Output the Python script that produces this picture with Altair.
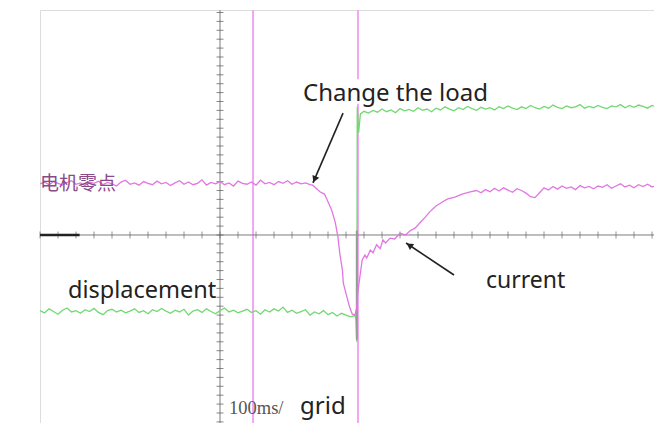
import altair as alt
import pandas as pd

# ---------------- data (time in ms, amplitude in divisions) ----------------
PINK_T = list(range(-200, 101, 5)) + [
    103, 111, 116, 119, 124, 128, 131, 133, 136, 137,
    141, 144, 147, 150, 152, 153, 156, 158, 161, 163,
    167, 170, 174, 178, 181, 184, 189, 194, 200, 206,
    211, 217, 222, 228, 233, 240, 247, 253, 261, 269,
    278] + list(range(285, 486, 5))
PINK_V = [
    1.15, 1.19, 1.13, 1.20, 1.16, 1.12, 1.18, 1.22, 1.14, 1.17,
    1.11, 1.19, 1.16, 1.21, 1.13, 1.18, 1.15, 1.10, 1.19, 1.23,
    1.14, 1.17, 1.12, 1.20, 1.16, 1.13, 1.21, 1.15, 1.18, 1.11,
    1.17, 1.22, 1.14, 1.19, 1.13, 1.16, 1.24, 1.12, 1.18, 1.15,
    1.20, 1.13, 1.17, 1.10, 1.21, 1.16, 1.14, 1.19, 1.12, 1.23,
    1.15, 1.18, 1.13, 1.20, 1.16, 1.22, 1.14, 1.19, 1.15, 1.17,
    1.13,
    1.12, 0.97, 0.92, 0.79, 0.56, 0.29, -0.04, -0.40, -0.79, -1.08,
    -1.39, -1.62, -1.78, -1.80, -1.62, -1.30, -0.85, -0.56, -0.45, -0.52,
    -0.34, -0.40, -0.22, -0.31, -0.11, -0.18, -0.07, -0.09, 0.04, 0.00,
    0.09, 0.16, 0.27, 0.40, 0.52, 0.65, 0.74, 0.81, 0.85, 0.92,
    0.97,
    1.00, 0.95, 1.02, 0.97, 1.05, 0.99, 1.06, 1.01, 0.96, 1.04,
    1.00, 0.94, 0.86, 0.84, 0.95, 1.06, 1.01, 1.09, 1.03, 1.10,
    1.05, 1.08, 1.02, 1.11, 1.06, 1.09, 1.04, 1.10, 1.07, 1.13,
    1.05, 1.10, 1.15, 1.08, 1.12, 1.06, 1.13, 1.09, 1.14, 1.08,
    1.11]

GREEN_T = list(range(-200, 151, 5)) + [151, 152, 152.5, 154, 156] + list(range(160, 486, 5))
GREEN_V = [
    -1.70, -1.75, -1.66, -1.72, -1.78, -1.69, -1.64, -1.73, -1.70, -1.76,
    -1.68, -1.72, -1.65, -1.74, -1.79, -1.70, -1.67, -1.73, -1.69, -1.75,
    -1.71, -1.66, -1.74, -1.70, -1.77, -1.68, -1.72, -1.65, -1.71, -1.76,
    -1.69, -1.73, -1.67, -1.80, -1.71, -1.68, -1.74, -1.66, -1.72, -1.77,
    -1.70, -1.64, -1.73, -1.69, -1.75, -1.71, -1.67, -1.74, -1.70, -1.78,
    -1.68, -1.73, -1.66, -1.71, -1.62, -1.74, -1.69, -1.76, -1.72, -1.68,
    -1.80, -1.73, -1.77, -1.70, -1.79, -1.74, -1.82, -1.76, -1.80, -1.84,
    -1.81,
    -1.90, -2.40, 2.88, 2.30, 2.72,
    2.78, 2.74, 2.80, 2.76, 2.83, 2.77, 2.81, 2.75, 2.84, 2.79,
    2.82, 2.78, 2.86, 2.80, 2.83, 2.77, 2.85, 2.81, 2.88, 2.83,
    2.79, 2.86, 2.82, 2.89, 2.84, 2.80, 2.87, 2.83, 2.86, 2.81,
    2.88, 2.84, 2.90, 2.85, 2.82, 2.88, 2.84, 2.91, 2.86, 2.83,
    2.89, 2.85, 2.92, 2.87, 2.84, 2.90, 2.86, 2.88, 2.93, 2.85,
    2.89, 2.86, 2.91, 2.87, 2.84, 2.90, 2.88, 2.93, 2.86, 2.91,
    2.87, 2.92, 2.89, 2.85, 2.91, 2.88]

GRAY_T = [152, 152]
GRAY_V = [0.1, -2.35]

CURSORS_T = [36.7, 153.3]
GRID_T = [-200, -100, 0, 100, 200, 300, 400]
GRID_V = [-4, -3, -2, -1, 0, 1, 2, 3, 4, 5]
TICK_T = list(range(-200, 481, 20))
TICK_V = [round(-4.2 + 0.2 * i, 2) for i in range(47)]

LABELS = [
    {"text": "Change the load", "t": 92.2, "v": 3.02, "font": "Noto Sans", "size": 24, "color": "#222222"},
    {"text": "current", "t": 295.6, "v": -1.19, "font": "Noto Sans", "size": 23, "color": "#222222"},
    {"text": "displacement", "t": -168.9, "v": -1.42, "font": "Noto Sans", "size": 23.5, "color": "#222222"},
    {"text": "grid", "t": 88.9, "v": -4.02, "font": "Noto Sans", "size": 24, "color": "#222222"},
    {"text": "100ms/", "t": 10.0, "v": -4.02, "font": "Liberation Serif", "size": 18.5, "color": "#555555"},
    {"text": "电机零点", "t": -200.0, "v": 1.02, "font": "Noto Sans CJK SC", "size": 19, "color": "#8a4a8a"},
]
ARROWS = [
    {"t": 136.7, "v": 2.74, "t2": 103.3, "v2": 1.17, "ht": 105.1, "hv": 1.25, "angle": 203},
    {"t": 260.0, "v": -0.90, "t2": 206.7, "v2": -0.18, "ht": 210.4, "hv": -0.23, "angle": 304},
]
LABEL_BOX = {"t": 90, "t2": 300, "v": 2.95, "v2": 3.50}
GROUND = {"t": -200, "t2": -156, "v": 0}

# ---------------- scales ----------------
XS = alt.Scale(domain=[-200, 482.2], nice=False, zero=False)
YS = alt.Scale(domain=[-4.225, 5.056], nice=False, zero=False)
GRIDC = "#c9c9c9"

x_axis = alt.Axis(values=GRID_T, grid=True, labels=False, ticks=False, domain=False, title=None,
                  gridColor=GRIDC, gridDash=[2, 7], gridWidth=1.3)
y_axis = alt.Axis(values=GRID_V, grid=True, labels=False, ticks=False, domain=False, title=None,
                  gridColor=GRIDC, gridDash=[2, 7.9], gridWidth=1.3)

pink = pd.DataFrame({"t": PINK_T, "v": PINK_V, "i": range(len(PINK_T))})
green = pd.DataFrame({"t": GREEN_T, "v": GREEN_V, "i": range(len(GREEN_T))})
gray = pd.DataFrame({"t": GRAY_T, "v": GRAY_V})

base_grid = alt.Chart(pd.DataFrame({"t": [-200], "v": [0]})).mark_point(opacity=0).encode(
    x=alt.X("t:Q", scale=XS, axis=x_axis),
    y=alt.Y("v:Q", scale=YS, axis=y_axis),
)

cursors = alt.Chart(pd.DataFrame({"t": CURSORS_T})).mark_rule(color="#f3a6f3", strokeWidth=2).encode(
    x=alt.X("t:Q", scale=XS, axis=None)
)

box = alt.Chart(pd.DataFrame([LABEL_BOX])).mark_rect(color="white").encode(
    x=alt.X("t:Q", scale=XS, axis=None), x2="t2:Q",
    y=alt.Y("v:Q", scale=YS, axis=None), y2="v2:Q",
)

center_v = alt.Chart(pd.DataFrame({"t": [0]})).mark_rule(color="#7c7c7c", strokeWidth=1).encode(
    x=alt.X("t:Q", scale=XS, axis=None)
)
center_h = alt.Chart(pd.DataFrame({"v": [0]})).mark_rule(color="#7c7c7c", strokeWidth=1).encode(
    y=alt.Y("v:Q", scale=YS, axis=None)
)
ticks_v = alt.Chart(pd.DataFrame({"v": TICK_V, "t": [0] * len(TICK_V)})).mark_tick(
    orient="horizontal", size=7, thickness=1, color="#555555").encode(
    x=alt.X("t:Q", scale=XS, axis=None), y=alt.Y("v:Q", scale=YS, axis=None))
ticks_h = alt.Chart(pd.DataFrame({"t": TICK_T, "v": [0] * len(TICK_T)})).mark_tick(
    orient="vertical", size=7, thickness=1, color="#666666").encode(
    x=alt.X("t:Q", scale=XS, axis=None), y=alt.Y("v:Q", scale=YS, axis=None))
ground = alt.Chart(pd.DataFrame([GROUND])).mark_rule(color="#222222", strokeWidth=2.5).encode(
    x=alt.X("t:Q", scale=XS, axis=None), x2="t2:Q", y=alt.Y("v:Q", scale=YS, axis=None))

green_line = alt.Chart(green).mark_line(color="#72d872", strokeWidth=1.3).encode(
    x=alt.X("t:Q", scale=XS, axis=None), y=alt.Y("v:Q", scale=YS, axis=None), order="i:Q")
gray_line = alt.Chart(gray).mark_line(color="#8fa08f", strokeWidth=2).encode(
    x=alt.X("t:Q", scale=XS, axis=None), y=alt.Y("v:Q", scale=YS, axis=None))
pink_line = alt.Chart(pink).mark_line(color="#e276e2", strokeWidth=1.3).encode(
    x=alt.X("t:Q", scale=XS, axis=None), y=alt.Y("v:Q", scale=YS, axis=None), order="i:Q")

arrows_df = pd.DataFrame(ARROWS)
arrow_lines = alt.Chart(arrows_df).mark_rule(color="#222222", strokeWidth=1.6).encode(
    x=alt.X("t:Q", scale=XS, axis=None), y=alt.Y("v:Q", scale=YS, axis=None), x2="t2:Q", y2="v2:Q")
arrow_heads = alt.Chart(arrows_df).mark_point(shape="triangle-up", filled=True, size=55,
                                              color="#222222", opacity=1).encode(
    x=alt.X("ht:Q", scale=XS, axis=None), y=alt.Y("hv:Q", scale=YS, axis=None),
    angle=alt.Angle("angle:Q", scale=None))

text_layers = []
for lab in LABELS:
    text_layers.append(
        alt.Chart(pd.DataFrame([lab])).mark_text(
            align="left", baseline="alphabetic", font=lab["font"], fontSize=lab["size"],
            color=lab["color"]).encode(
            x=alt.X("t:Q", scale=XS, axis=None), y=alt.Y("v:Q", scale=YS, axis=None), text="text:N")
    )

chart = alt.layer(
    base_grid, cursors, box, center_v, center_h, ticks_v, ticks_h, ground,
    green_line, gray_line, pink_line, arrow_lines, arrow_heads, *text_layers
).properties(
    width=614, height=413,
    padding={"left": 32, "top": 2, "right": 0, "bottom": 0},
    autosize=alt.AutoSizeParams(type="none"),
).configure_view(stroke=None).configure(background="white")

chart.save("out.html", embed_options={"renderer": "svg", "actions": False})
